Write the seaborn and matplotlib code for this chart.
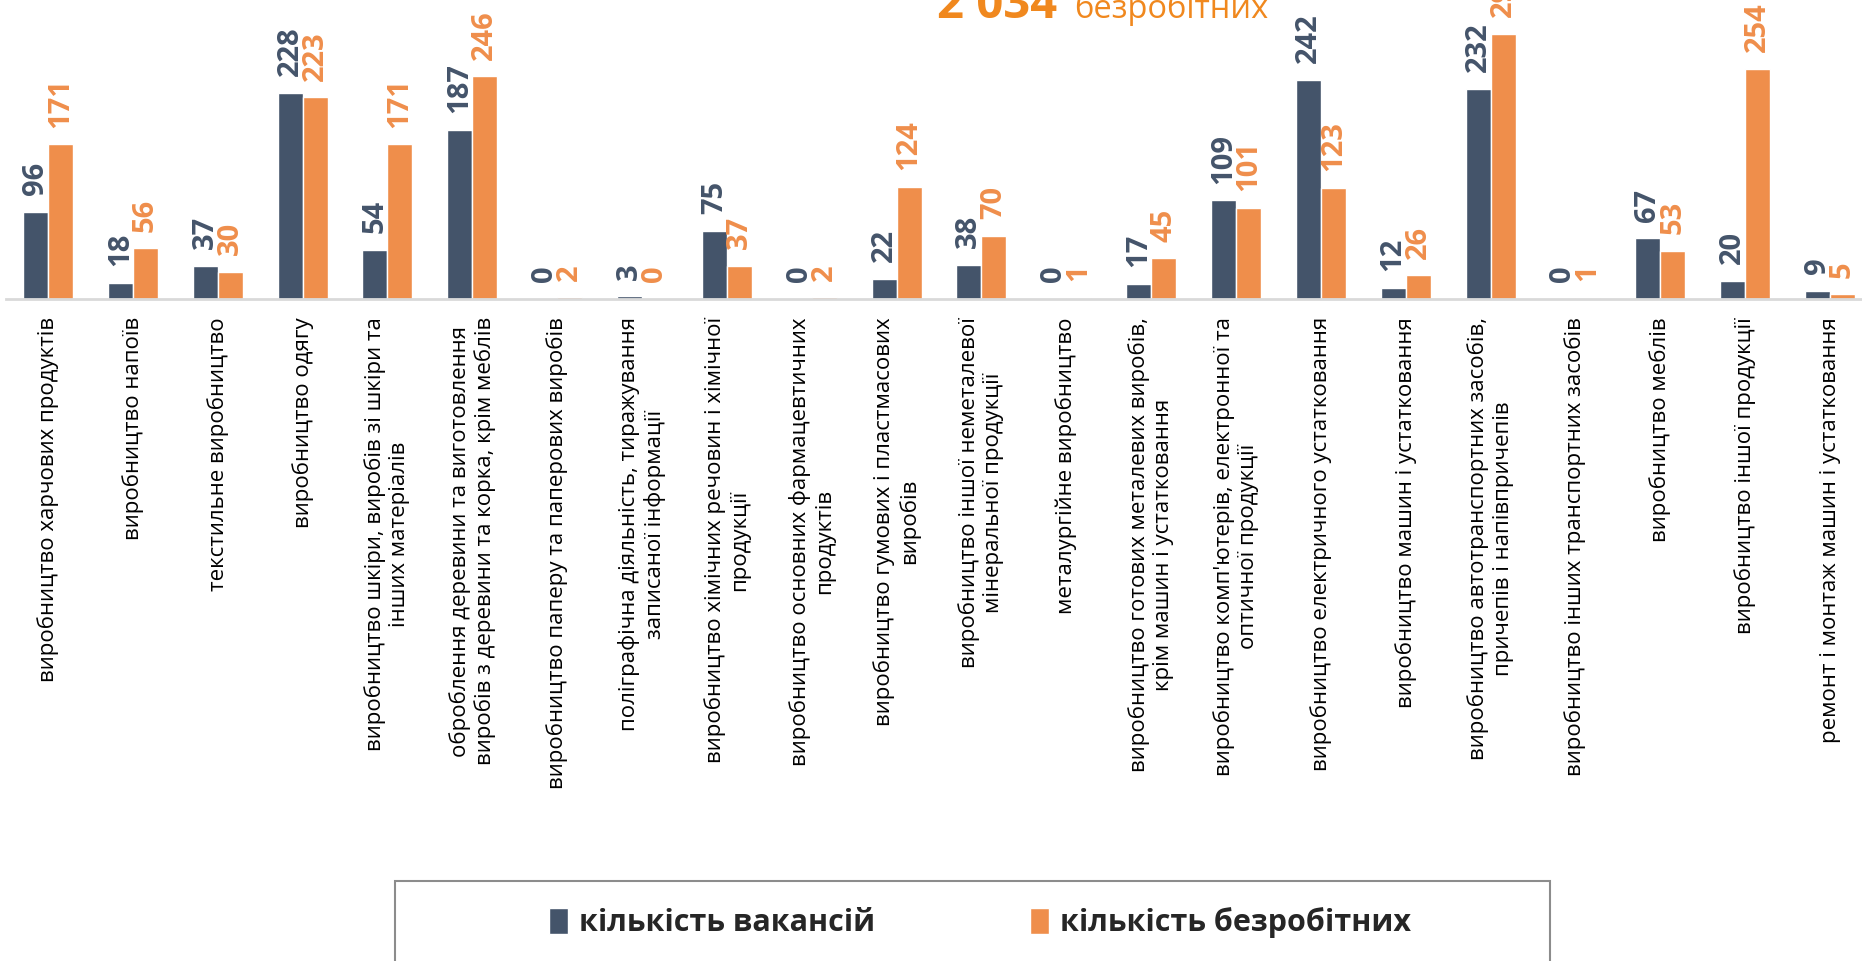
import pandas as pd
import matplotlib
matplotlib.use('Agg')
import matplotlib.pyplot as plt
import matplotlib.patches as mpatches
import seaborn as sns

# --- Data ---
categories = [
    'виробництво харчових продуктів',
    'виробництво напоїв',
    'текстильне виробництво',
    'виробництво одягу',
    'виробництво шкіри, виробів зі шкіри та\nінших матеріалів',
    'оброблення деревини та виготовлення\nвиробів з деревини та корка, крім меблів',
    'виробництво паперу та паперових виробів',
    'поліграфічна діяльність, тиражування\nзаписаної інформації',
    'виробництво хімічних речовин і хімічної\nпродукції',
    'виробництво основних фармацевтичних\nпродуктів',
    'виробництво гумових і пластмасових\nвиробів',
    'виробництво іншої неметалевої\nмінеральної продукції',
    'металургійне виробництво',
    'виробництво готових металевих виробів,\nкрім машин і устатковання',
    "виробництво комп'ютерів, електронної та\nоптичної продукції",
    'виробництво електричного устатковання',
    'виробництво машин і устатковання',
    'виробництво автотранспортних засобів,\nпричепів і напівпричепів',
    'виробництво інших транспортних засобів',
    'виробництво меблів',
    'виробництво іншої продукції',
    'ремонт і монтаж машин і устатковання',
]
vacancies = [96, 18, 37, 228, 54, 187, 0, 3, 75, 0, 22, 38, 0, 17, 109, 242, 12, 232, 0, 67, 20, 9]
unemployed = [171, 56, 30, 223, 171, 246, 2, 0, 37, 2, 124, 70, 1, 45, 101, 123, 26, 293, 1, 53, 254, 5]
series_names = ['кількість вакансій', 'кількість безробітних']
total_label = '2 034'
total_word = 'безробітних'

blue = '#44546A'
orange = '#EF8E4B'
colors = [blue, orange]

df = pd.DataFrame({
    'category': categories * 2,
    'value': vacancies + unemployed,
    'series': [series_names[0]] * len(categories) + [series_names[1]] * len(categories),
})

# --- Plot ---
sns.set_style('white')
plt.rcParams['font.family'] = ['Open Sans', 'DejaVu Sans']

W, H = 1862, 961
fig = plt.figure(figsize=(W / 100, H / 100), dpi=100)
base_px = 299
ax = fig.add_axes([0, 1 - base_px / H, 1, base_px / H])

sns.barplot(data=df, x='category', y='value', hue='series', palette=colors,
            width=0.59, saturation=1, ax=ax, legend=True)

ax.set_xlim(-0.566, 21.377)
ax.set_ylim(0, 330.4)
for s in ['top', 'right', 'left']:
    ax.spines[s].set_visible(False)
ax.spines['bottom'].set_color('#D9D9D9')
ax.spines['bottom'].set_linewidth(2)
ax.spines['bottom'].set_bounds(-0.5, 21.5)
ax.set_yticks([])
ax.set_xlabel('')
ax.set_ylabel('')
ax.tick_params(axis='x', length=0, pad=13)
ax.set_xticks(range(len(categories)))
ax.set_xticklabels(categories, rotation=90, ha='center', va='top',
                   multialignment='center', fontsize=16, color='black')

# value labels
for cont, col in zip(ax.containers, colors):
    for t in ax.bar_label(cont, padding=12, rotation=90, fontsize=21,
                          fontweight='bold', color=col):
        t.set_clip_on(False)

handles, labels = ax.get_legend_handles_labels()
ax.get_legend().remove()

# legend frame and legend
fig.patches.append(mpatches.Rectangle((395 / W, -0.05), (1550 - 395) / W,
                                      1 - 881 / H + 0.05, transform=fig.transFigure,
                                      fill=False, edgecolor='#8C8C8C', linewidth=1.5))
fig.legend(handles, labels, loc='center', bbox_to_anchor=(980 / W, 1 - 923 / H),
           ncol=2, frameon=False, prop={'size': 22, 'weight': 'bold'},
           handlelength=0.62, handleheight=0.9, handletextpad=0.33, columnspacing=5.1)

# total at top
fig.text(937 / W, 1 - 18 / H, total_label, fontsize=34, fontweight='bold',
         color='#F0881E', ha='left', va='baseline')
fig.text(1074 / W, 1 - 18 / H, total_word, fontsize=23.5, color='#F0881E',
         ha='left', va='baseline')

fig.savefig('out.png', dpi=100)
